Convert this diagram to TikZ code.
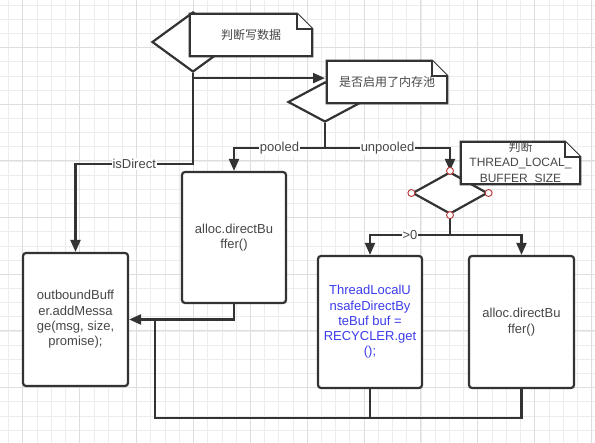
\documentclass[tikz,border=0pt]{standalone}
\usepackage{fontspec}
\setmainfont{Liberation Sans}
\newfontfamily\cjk{Noto Sans CJK SC}
\usetikzlibrary{shapes.geometric,arrows.meta}
\definecolor{gridminor}{gray}{0.925}
\definecolor{gridmajor}{gray}{0.87}
\definecolor{inkline}{gray}{0.2}
\definecolor{inktext}{gray}{0.28}
\definecolor{codeblue}{RGB}{60,60,235}
\definecolor{hookred}{RGB}{185,50,50}
\tikzset{
  flow/.style={draw=inkline,line width=2.2pt,-{Triangle[length=12pt,width=10pt]}},
  wire/.style={draw=inkline,line width=2.2pt},
  lbl/.style={fill=white,inner sep=1pt,text=inktext,font=\fontsize{13}{15}\selectfont},
  boxv/.style={draw=inkline,line width=2.2pt,rounded corners=3pt,fill=white,align=center,text=inktext,font=\fontsize{13}{15.3}\selectfont},
  decv/.style={draw=inkline,line width=2.2pt,diamond,fill=white,inner sep=0pt},
  notebox/.style={inner sep=0pt},
  notev/.style={inner sep=0pt,align=center,text=inktext,font=\fontsize{12}{15.5}\selectfont},
  noteline/.style={draw=inkline,line width=2.2pt,fill=white},
  cpt/.style={draw=hookred,fill=white,line width=0.9pt},
}
\newcommand{\dogear}[1]{%
  \filldraw[noteline] (#1.south west) -- (#1.north west) -- ([xshift=-15pt]#1.north east)
    -- ([yshift=-15pt]#1.north east) -- (#1.south east) -- cycle;
  \draw[noteline] ([xshift=-15pt]#1.north east) -- ([xshift=-15pt,yshift=-15pt]#1.north east)
    -- ([yshift=-15pt]#1.north east);}

\begin{document}
\begin{tikzpicture}[x=1pt,y=-1pt]
  \useasboundingbox (0,0) rectangle (595,443);
  \fill[white] (0,0) rectangle (595,443);
  \foreach \i in {0,...,41} \draw[gridminor,line width=0.6pt] ({8.5+14.22*\i},0) -- ++(0,443);
  \foreach \i in {0,...,31} \draw[gridminor,line width=0.6pt] (0,{5+14.17*\i}) -- ++(595,0);
  \foreach \i in {0,...,10} \draw[gridmajor,line width=1pt] ({22.72+56.88*\i},0) -- ++(0,443);
  \foreach \i in {0,...,7} \draw[gridmajor,line width=1pt] (0,{47.5+56.68*\i}) -- ++(595,0);

  \node[decv,minimum width=82pt,minimum height=60pt] (d1) at (193,42) {};
  \node[decv,minimum width=74pt,minimum height=40pt] (d2) at (325,102) {};
  \node[decv,minimum width=75pt,minimum height=42pt] (d3) at (450,193) {};

  \node[boxv,minimum width=105pt,minimum height=133pt] (b0) at (75.5,319.5)
    {outboundBuff\\er.addMessa\\ge(msg, size,\\promise);};
  \node[boxv,minimum width=104pt,minimum height=131pt] (b1) at (234,237.5)
    {alloc.directBu\\ffer()};
  \node[boxv,minimum width=104pt,minimum height=132pt,text=codeblue] (b2) at (370,322)
    {ThreadLocalU\\nsafeDirectBy\\teBuf buf =\\RECYCLER.get\\();};
  \node[boxv,minimum width=105pt,minimum height=132pt] (b3) at (521.5,322)
    {alloc.directBu\\ffer()};
  \coordinate (m1) at (155,319.5);

  \draw[flow] (d1.south) -- ++(0,5) coordinate (j1) -- (j1 -| d2.north);
  \draw[flow] (j1) -- ++(0,86) -| node[lbl,pos=0.25] {isDirect} (b0.north);
  \draw[flow] (d2.south) -- ++(0,25) coordinate (j2) -| node[lbl,pos=0.25] {pooled} (b1.north);
  \draw[flow] (j2) -| node[lbl,pos=0.25] {unpooled} (d3.north);
  \draw[flow] (d3.south) -- ++(0,20) coordinate (j3) -| node[lbl,pos=0.25] {>0} (b2.north);
  \draw[flow] (j3) -| (b3.north);
  \draw[flow] (b1.south) |- (b0.east);
  \draw[wire] (b3.south) -- ++(0,29) -| (m1);
  \draw[wire] (b2.south) -- ++(0,29);

  \node[notebox,minimum width=122pt,minimum height=42pt] (n1) at (251,35) {};
  \dogear{n1}
  \node[notev] (t1) at (n1) {\cjk 判断写数据};
  \node[notebox,minimum width=120pt,minimum height=42pt] (n2) at (387,82) {};
  \dogear{n2}
  \node[notev] (t2) at (n2) {\cjk 是否启用了内存池};
  \node[notebox,minimum width=119pt,minimum height=42pt] (n3) at (520.5,163) {};
  \dogear{n3}
  \node[notev] (t3) at (n3) {{\cjk 判断}\\THREAD\_LOCAL\_\\BUFFER\_SIZE};

  \foreach \a in {north,south,east,west} \draw[cpt] (d3.\a) circle (3.5);
\end{tikzpicture}
\end{document}
